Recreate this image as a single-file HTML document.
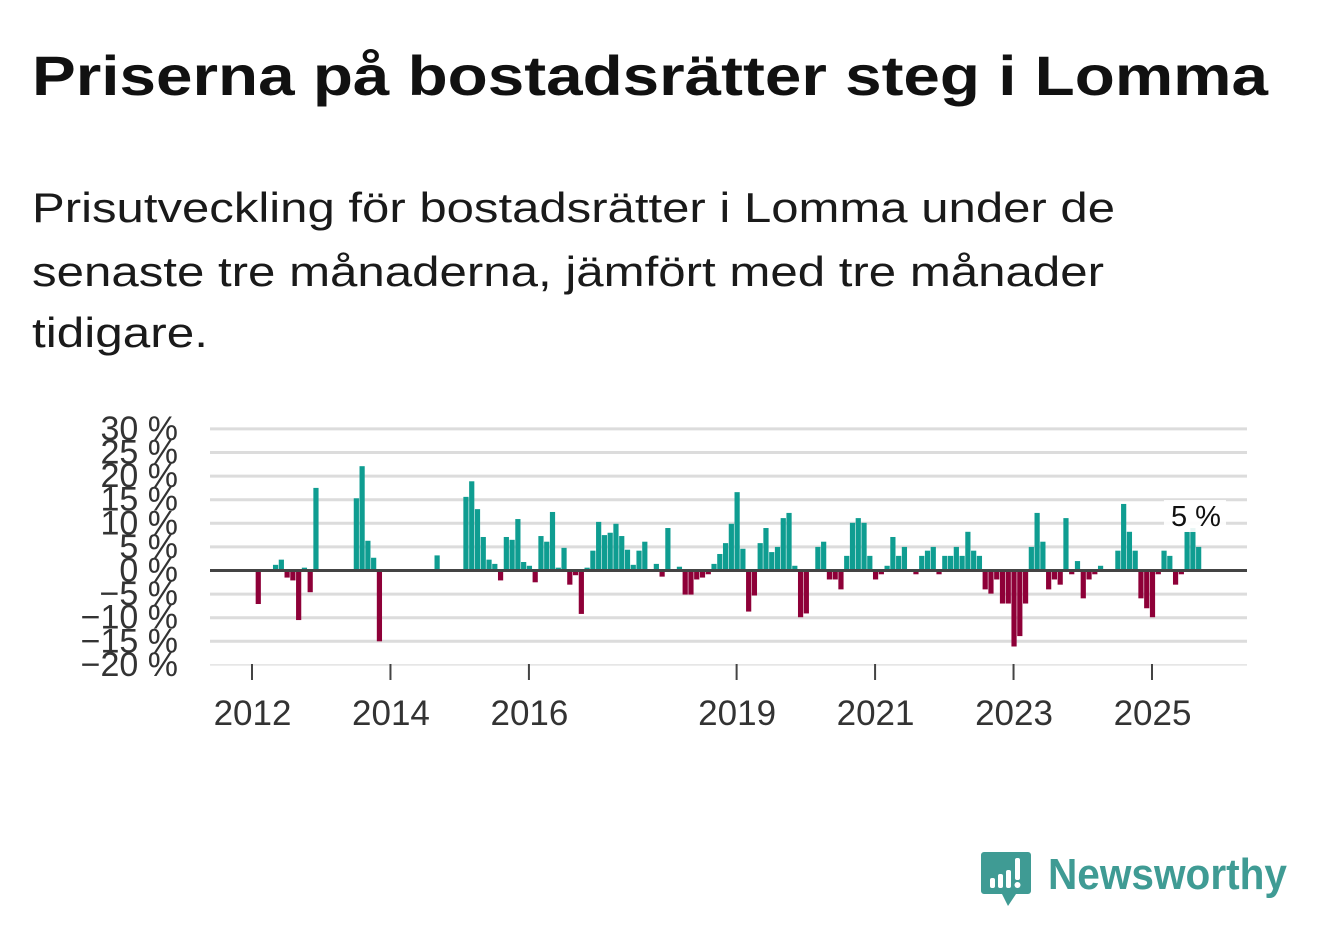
<!DOCTYPE html>
<html><head><meta charset="utf-8"><style>
html,body{margin:0;padding:0;background:#fff;width:1322px;height:939px;overflow:hidden}
svg{display:block;font-family:"Liberation Sans","DejaVu Sans",sans-serif}
</style></head><body>
<svg id="chart" width="1322" height="939" viewBox="0 0 1322 939" xmlns="http://www.w3.org/2000/svg">
<text x="32" y="95" font-size="56" font-weight="bold" fill="#111" textLength="1236" lengthAdjust="spacingAndGlyphs">Priserna på bostadsrätter steg i Lomma</text>
<g font-size="42" fill="#1a1a1a">
<text x="32" y="222" textLength="1083" lengthAdjust="spacingAndGlyphs">Prisutveckling för bostadsrätter i Lomma under de</text>
<text x="32" y="286" textLength="1072" lengthAdjust="spacingAndGlyphs">senaste tre månaderna, jämfört med tre månader</text>
<text x="32" y="347" textLength="176" lengthAdjust="spacingAndGlyphs">tidigare.</text>
</g>
<g id="grid"></g>
<g id="ylabels"></g>
<g id="bars"></g>
<g id="xlabels"></g>
<g>
<rect x="1164" y="500" width="62" height="32" fill="#fff" opacity="0.9"/>
<text x="1196" y="526" font-size="29" text-anchor="middle" fill="#111">5 %</text>
</g>
<g>
<path d="M984 852 h44 a3 3 0 0 1 3 3 v36 a3 3 0 0 1 -3 3 h-12 l-8 12 l-6 -12 h-18 a3 3 0 0 1 -3 -3 v-36 a3 3 0 0 1 3 -3z" fill="#3f9b94"/>
<rect x="990" y="878" width="5" height="10" rx="2" fill="#fff"/>
<rect x="998" y="874" width="5" height="14" rx="2" fill="#fff"/>
<rect x="1006" y="870" width="5" height="18" rx="2" fill="#fff"/>
<rect x="1015" y="858" width="5" height="22" rx="2" fill="#fff"/>
<circle cx="1017.5" cy="885" r="3" fill="#fff"/>
<text x="1048" y="889" font-size="44" font-weight="bold" fill="#3f9b94" textLength="239" lengthAdjust="spacingAndGlyphs">Newsworthy</text>
</g>
</svg>
<script>
const yTicks = [30, 25, 20, 15, 10, 5, 0, -5, -10, -15, -20];
const yTickLabels = ["30 %","25 %","20 %","15 %","10 %","5 %","0 %","−5 %","−10 %","−15 %","−20 %"];
const xTickYears = [2012, 2014, 2016, 2019, 2021, 2023, 2025];
// month index from Jan 2012 -> change in percent
const barMonths = [1,4,5,6,7,8,9,10,11,18,19,20,21,22,32,37,38,39,40,41,42,43,44,45,46,47,48,49,50,51,52,53,54,55,56,57,58,59,60,61,62,63,64,65,66,67,68,70,71,72,74,75,76,77,78,79,80,81,82,83,84,85,86,87,88,89,90,91,92,93,94,95,96,98,99,100,101,102,103,104,105,106,107,108,109,110,111,112,113,115,116,117,118,119,120,121,122,123,124,125,126,127,128,129,130,131,132,133,134,135,136,137,138,139,140,141,142,143,144,145,146,147,150,151,152,153,154,155,156,157,158,159,160,161,162,163,164];
const barValues = [-7.1,1.2,2.3,-1.5,-2.1,-10.5,0.6,-4.6,17.5,15.3,22.1,6.3,2.7,-15,3.2,15.6,18.9,13,7.1,2.3,1.4,-2.1,7.1,6.5,10.9,1.8,1,-2.5,7.3,6.1,12.4,0.6,4.8,-3,-1,-9.2,0.6,4.2,10.3,7.5,8,9.9,7.3,4.4,1.2,4.2,6.1,1.4,-1.3,9,0.8,-5.1,-5.1,-1.9,-1.5,-0.8,1.4,3.5,5.8,9.9,16.6,4.6,-8.7,-5.3,5.8,9,3.9,5,11.1,12.2,1,-9.9,-9.1,5,6.1,-1.9,-1.9,-4,3.1,10.1,11.1,10.1,3.1,-1.9,-0.8,1,7.1,3.1,5,-0.8,3.1,4.2,5,-0.8,3.1,3.1,5,3.1,8.2,4.2,3.1,-4,-4.9,-1.9,-7,-7,-16.1,-13.9,-7,5,12.2,6.1,-4,-1.9,-3,11.1,-0.8,2,-5.9,-1.9,-0.8,1,4.2,14.1,8.2,4.2,-5.9,-8,-9.9,-0.8,4.2,3.1,-3,-0.8,8.2,9,5];

const NS = "http://www.w3.org/2000/svg";
const y = v => 570.5 - v * (236 / 50);
const x = m => 252.5 + m * (1152 - 252) / 156;
const left = 210, right = 1247;
function mk(tag, attrs, parent) {
  const e = document.createElementNS(NS, tag);
  for (const k in attrs) e.setAttribute(k, attrs[k]);
  parent.appendChild(e);
  return e;
}
const grid = document.getElementById('grid');
const yl = document.getElementById('ylabels');
yTicks.forEach((t, i) => {
  if (t !== 0) {
    const l = mk('line', {x1: left, x2: right, y1: y(t), y2: y(t), stroke: t === -20 ? '#e2e2e2' : '#dcdcdc', 'stroke-width': t === -20 ? 1.5 : 3}, grid);
    
    
  }
  const tx = mk('text', {x: 178, y: y(t) + 11, 'text-anchor': 'end', 'font-size': 34, fill: '#333'}, yl);
  tx.textContent = yTickLabels[i];
  
  
});
const bars = document.getElementById('bars');
barMonths.forEach((m, i) => {
  const v = barValues[i];
  const r = mk('rect', {x: x(m) - 2.6, width: 5.2, y: Math.min(y(v), y(0)), height: Math.abs(y(v) - y(0)), fill: v >= 0 ? '#0f9d91' : '#8e0038'}, bars);
  
  
});
const zl = mk('line', {x1: left, x2: right, y1: y(0), y2: y(0), stroke: '#444', 'stroke-width': 3}, bars);


const xl = document.getElementById('xlabels');
xTickYears.forEach(yr => {
  const m = (yr - 2012) * 12;
  const tk = mk('line', {x1: x(m) - 0.5, x2: x(m) - 0.5, y1: 664, y2: 680, stroke: '#444', 'stroke-width': 2}, xl);
  
  
  const t = mk('text', {x: x(m), y: 725, 'text-anchor': 'middle', 'font-size': 35, fill: '#333'}, xl);
  t.textContent = yr;
  
  
});
</script>
</body></html>
